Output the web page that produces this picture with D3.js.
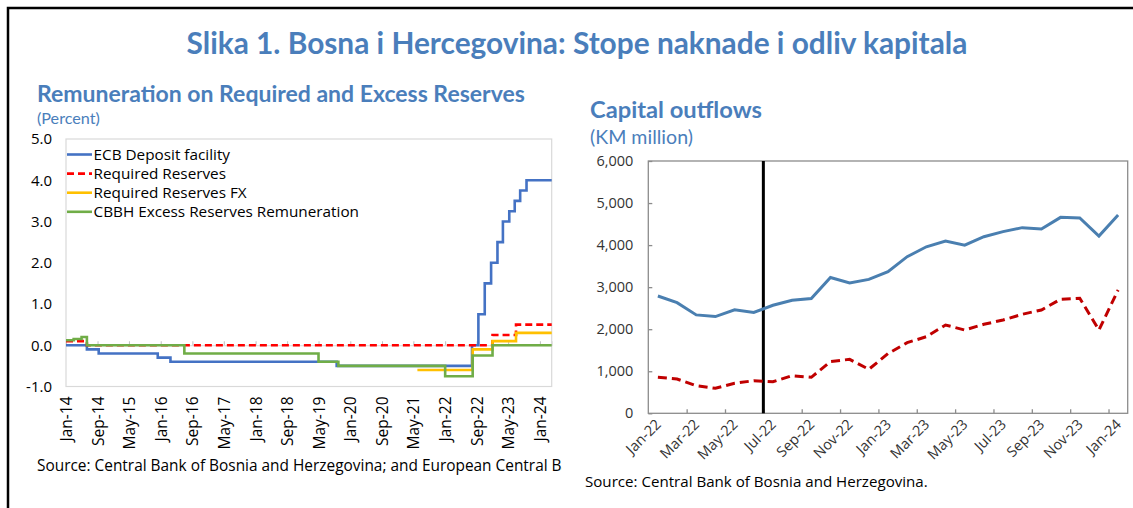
<!doctype html>
<html>
<head>
<meta charset="utf-8">
<title>Slika 1</title>
<script src="https://cdn.jsdelivr.net/npm/d3@7"></script>
<style>
  body { margin: 0; background: #fff; }
  svg { display: block; }
  text { font-family: "Open Sans", "Noto Sans", sans-serif; }
  .ttl { font-family: Lato, "Open Sans", sans-serif; fill: #4a7ebb; }
</style>
</head>
<body>
<script>
// ---- left panel: remuneration (step series) ----
var ecbDates  = ["2014-01-01","2014-06-11","2014-09-10","2015-12-09","2016-03-16","2019-09-18","2022-07-27","2022-09-14","2022-11-02","2022-12-21","2023-02-08","2023-03-22","2023-05-10","2023-06-21","2023-08-02","2023-09-20","2024-04-01"];
var ecbRates  = [0, -0.1, -0.2, -0.3, -0.4, -0.5, 0, 0.75, 1.5, 2.0, 2.5, 3.0, 3.25, 3.5, 3.75, 4.0, 4.0];
var reqDates  = ["2014-01-01","2014-06-11","2023-01-01","2023-07-01","2024-04-01"];
var reqRates  = [0.1, 0, 0.25, 0.5, 0.5];
var fxDates   = ["2021-06-01","2022-08-01","2023-01-01","2023-07-01","2024-04-01"];
var fxRates   = [-0.6, -0.1, 0.1, 0.3, 0.3];
var cbbhDates = ["2014-01-01","2014-03-01","2014-05-01","2014-06-11","2016-07-01","2019-05-01","2019-10-01","2022-01-01","2022-08-01","2023-01-01","2024-04-01"];
var cbbhRates = [0.12, 0.15, 0.2, 0, -0.2, -0.4, -0.5, -0.75, -0.25, 0, 0];
var leftTicks = ["2014-01-01","2014-09-01","2015-05-01","2016-01-01","2016-09-01","2017-05-01","2018-01-01","2018-09-01","2019-05-01","2020-01-01","2020-09-01","2021-05-01","2022-01-01","2022-09-01","2023-05-01","2024-01-01"];
var leftYTicks = [-1, 0, 1, 2, 3, 4, 5];

// ---- right panel: capital outflows (KM million) ----
var months = ["Jan-22","Feb-22","Mar-22","Apr-22","May-22","Jun-22","Jul-22","Aug-22","Sep-22","Oct-22","Nov-22","Dec-22",
              "Jan-23","Feb-23","Mar-23","Apr-23","May-23","Jun-23","Jul-23","Aug-23","Sep-23","Oct-23","Nov-23","Dec-23","Jan-24"];
var netForeignAssets = [2790,2630,2340,2300,2460,2400,2570,2690,2730,3230,3100,3185,3370,3725,3960,4095,4000,4200,4320,4415,4385,4660,4645,4215,4715];
var depositsNonRes   = [856,816,657,594,713,776,752,895,856,1228,1284,1046,1420,1680,1822,2100,1981,2116,2219,2354,2457,2711,2735,1981,2932];
var tighteningStart = "Jul-22";
var rightYTicks = [0, 1000, 2000, 3000, 4000, 5000, 6000];

var parse = d3.timeParse("%Y-%m-%d");
var fmtMon = d3.timeFormat("%b-%y");

var svg = d3.select("body").append("svg")
    .attr("width", 1133)
    .attr("height", 508);

// outer frame
svg.append("path")
    .attr("d", "M8,508V8H1133")
    .attr("fill", "none")
    .attr("stroke", "#000")
    .attr("stroke-width", 2.5);

// fit a text's font size so that a given string spans w pixels
function fit(sel, w, probe) {
    var full = sel.text();
    if (probe) sel.text(probe);
    var fs = parseFloat(sel.attr("font-size"));
    var len = sel.node().getComputedTextLength();
    sel.attr("font-size", (fs * w / len).toFixed(2));
    if (probe) sel.text(full);
    return sel;
}

fit(svg.append("text").attr("class", "ttl")
    .attr("x", 577).attr("y", 54)
    .attr("text-anchor", "middle")
    .attr("font-size", 26).attr("font-weight", "bold")
    .text("Slika 1. Bosna i Hercegovina: Stope naknade i odliv kapitala"), 781);

fit(svg.append("text").attr("class", "ttl")
    .attr("x", 37).attr("y", 102)
    .attr("font-size", 20).attr("font-weight", "bold")
    .text("Remuneration on Required and Excess Reserves"), 488);

fit(svg.append("text").attr("class", "ttl")
    .attr("x", 37).attr("y", 124)
    .attr("font-size", 15)
    .text("(Percent)"), 63);

fit(svg.append("text").attr("class", "ttl")
    .attr("x", 590).attr("y", 118)
    .attr("font-size", 21).attr("font-weight", "bold")
    .text("Capital outflows"), 172);

fit(svg.append("text").attr("class", "ttl")
    .attr("x", 590).attr("y", 144)
    .attr("font-size", 17)
    .text("(KM million)"), 103);

// ================= LEFT CHART =================
var L = { x0: 66, x1: 551.7, y0: 139, y1: 386.5 };

var x = d3.scaleTime()
    .domain([parse("2014-01-01"), parse("2024-04-01")])
    .range([L.x0, L.x1]);
var y = d3.scaleLinear().domain([-1, 5]).range([L.y1, L.y0]);

var gl = svg.append("g");

gl.append("rect")
    .attr("x", L.x0).attr("y", L.y0)
    .attr("width", L.x1 - L.x0).attr("height", L.y1 - L.y0)
    .attr("fill", "none").attr("stroke", "#d9d9d9").attr("stroke-width", 1.2);

// y labels
var yAxL = gl.append("g")
    .attr("transform", "translate(" + L.x0 + ",0)")
    .call(d3.axisLeft(y).tickValues(leftYTicks).tickSize(0).tickPadding(14)
        .tickFormat(function(d){ return d3.format(".1f")(d).replace("\u2212", "-"); }));
yAxL.select(".domain").remove();
yAxL.selectAll("text").attr("font-size", 15).attr("fill", "#000")
    .attr("font-family", "'Open Sans', sans-serif");

// x axis at zero with small inward ticks
var xAxL = gl.append("g")
    .attr("transform", "translate(0," + y(0) + ")")
    .call(d3.axisBottom(x).tickValues(leftTicks.map(parse)).tickSize(-4).tickFormat(""));
xAxL.select(".domain").attr("stroke", "#d9d9d9");
xAxL.selectAll(".tick line").attr("stroke", "#bfbfbf");

gl.selectAll("text.xl")
    .data(leftTicks)
    .enter().append("text")
    .attr("class", "xl")
    .attr("transform", function(d){ return "translate(" + (x(parse(d)) + 6) + "," + (L.y1 + 10) + ") rotate(-90)"; })
    .attr("text-anchor", "end")
    .attr("font-size", 15.5)
    .attr("fill", "#000")
    .text(function(d){ return fmtMon(parse(d)); });

var stepLine = d3.line()
    .x(function(d){ return x(d.date); })
    .y(function(d){ return y(d.v); })
    .curve(d3.curveStepAfter);

function zip(ds, vs) {
    return ds.map(function(d, i){ return { date: parse(d), v: vs[i] }; });
}

var leftSeries = [
    { name: "ECB Deposit facility", data: zip(ecbDates, ecbRates), color: "#4472c4", dash: null },
    { name: "Required Reserves", data: zip(reqDates, reqRates), color: "#ff0000", dash: "7,4" },
    { name: "Required Reserves FX", data: zip(fxDates, fxRates), color: "#ffc000", dash: null },
    { name: "CBBH Excess Reserves Remuneration", data: zip(cbbhDates, cbbhRates), color: "#70ad47", dash: null }
];

gl.selectAll("path.s")
    .data(leftSeries)
    .enter().append("path")
    .attr("class", "s")
    .attr("d", function(d){ return stepLine(d.data); })
    .attr("fill", "none")
    .attr("stroke", function(d){ return d.color; })
    .attr("stroke-width", 2.6)
    .attr("stroke-dasharray", function(d){ return d.dash; });

var lg = gl.selectAll("g.lg")
    .data(leftSeries)
    .enter().append("g")
    .attr("class", "lg")
    .attr("transform", function(d, i){ return "translate(0," + (154.5 + i * 19.1) + ")"; });
lg.append("line")
    .attr("x1", 67).attr("x2", 92)
    .attr("stroke", function(d){ return d.color; })
    .attr("stroke-width", 2.6)
    .attr("stroke-dasharray", function(d){ return d.dash; });
lg.append("text")
    .attr("x", 93.5).attr("dy", "0.35em")
    .attr("font-size", 15.3)
    .attr("fill", "#000")
    .text(function(d){ return d.name; });

// source text, clipped at the panel edge
svg.append("clipPath").attr("id", "srcclip")
    .append("rect").attr("x", 0).attr("y", 440).attr("width", 562).attr("height", 60);
fit(svg.append("text")
    .attr("clip-path", "url(#srcclip)")
    .attr("x", 37).attr("y", 471)
    .attr("font-size", 14.5)
    .attr("fill", "#000")
    .text("Source: Central Bank of Bosnia and Herzegovina; and European Central Bank."),
    525, "Source: Central Bank of Bosnia and Herzegovina; and European Central B");

// ================= RIGHT CHART =================
var R = { x0: 648.3, x1: 1127.7, y0: 161, y1: 413.3 };

var xb = d3.scaleBand().domain(months).range([R.x0, R.x1]).padding(0);
var xi = d3.scaleLinear().domain([0, months.length]).range([R.x0, R.x1]);
var y2 = d3.scaleLinear().domain([0, 6000]).range([R.y1, R.y0]);

var gr = svg.append("g");

gr.append("rect")
    .attr("x", R.x0).attr("y", R.y0)
    .attr("width", R.x1 - R.x0).attr("height", R.y1 - R.y0)
    .attr("fill", "none").attr("stroke", "#8c8c8c").attr("stroke-width", 1.3);

var yAxR = gr.append("g")
    .attr("transform", "translate(" + R.x0 + ",0)")
    .call(d3.axisLeft(y2).tickValues(rightYTicks).tickSize(-4).tickPadding(15).tickFormat(d3.format(",")));
yAxR.select(".domain").remove();
yAxR.selectAll(".tick line").attr("stroke", "#8c8c8c").attr("stroke-width", 1.3);
yAxR.selectAll("text").attr("font-size", 14.5).attr("fill", "#333")
    .attr("font-family", "'Open Sans', sans-serif");

var xAxR = gr.append("g")
    .attr("transform", "translate(0," + R.y1 + ")")
    .call(d3.axisBottom(xi).tickValues(d3.range(2, months.length, 2)).tickSize(-4).tickFormat(""));
xAxR.select(".domain").remove();
xAxR.selectAll(".tick line").attr("stroke", "#8c8c8c").attr("stroke-width", 1.3);

gr.selectAll("text.xr")
    .data(months.filter(function(d, i){ return i % 2 === 0; }))
    .enter().append("text")
    .attr("class", "xr")
    .attr("transform", function(d){ return "translate(" + (xb(d) + xb.bandwidth() / 2 + 4) + "," + (R.y1 + 12) + ") rotate(-45)"; })
    .attr("text-anchor", "end")
    .attr("font-size", 14.5)
    .attr("fill", "#333")
    .text(function(d){ return d; });

// ECB tightening marker
gr.append("line")
    .attr("x1", xb(tighteningStart)).attr("x2", xb(tighteningStart))
    .attr("y1", y2(6000)).attr("y2", y2(0))
    .attr("stroke", "#000").attr("stroke-width", 3);

var line2 = d3.line()
    .x(function(d, i){ return xb(months[i]) + xb.bandwidth() / 2; })
    .y(function(d){ return y2(d); });

var rightSeries = [
    { name: "Net foreign assets", data: netForeignAssets, color: "#4a7fb0", dash: null },
    { name: "Deposits with non residents (foreign currency)", data: depositsNonRes, color: "#c00000", dash: "9,5" }
];

gr.selectAll("path.s2")
    .data(rightSeries)
    .enter().append("path")
    .attr("class", "s2")
    .attr("d", function(d){ return line2(d.data); })
    .attr("fill", "none")
    .attr("stroke", function(d){ return d.color; })
    .attr("stroke-width", 3)
    .attr("stroke-dasharray", function(d){ return d.dash; });

var legR = rightSeries.concat([{ name: "Start of ECB tightening", color: "#000", dash: null }]);
svg.append("clipPath").attr("id", "rclip")
    .append("rect").attr("x", 600).attr("y", 150).attr("width", 529).attr("height", 100);
var lg2 = gr.selectAll("g.lg2")
    .data(legR)
    .enter().append("g")
    .attr("class", "lg2")
    .attr("clip-path", "url(#rclip)")
    .attr("transform", function(d, i){ return "translate(0," + (178.5 + i * 18.4) + ")"; });
lg2.append("line")
    .attr("x1", 792).attr("x2", 833.5)
    .attr("stroke", function(d){ return d.color; })
    .attr("stroke-width", 3)
    .attr("stroke-dasharray", function(d){ return d.dash; });
lg2.append("text")
    .attr("x", 838.5).attr("dy", "0.35em")
    .attr("font-size", 15)
    .attr("fill", "#595959")
    .text(function(d){ return d.name; });

fit(svg.append("text")
    .attr("x", 585).attr("y", 487)
    .attr("font-size", 16)
    .attr("font-family", "Lato, 'Open Sans', sans-serif")
    .attr("fill", "#000")
    .text("Source: Central Bank of Bosnia and Herzegovina."), 343);
</script>
</body>
</html>
